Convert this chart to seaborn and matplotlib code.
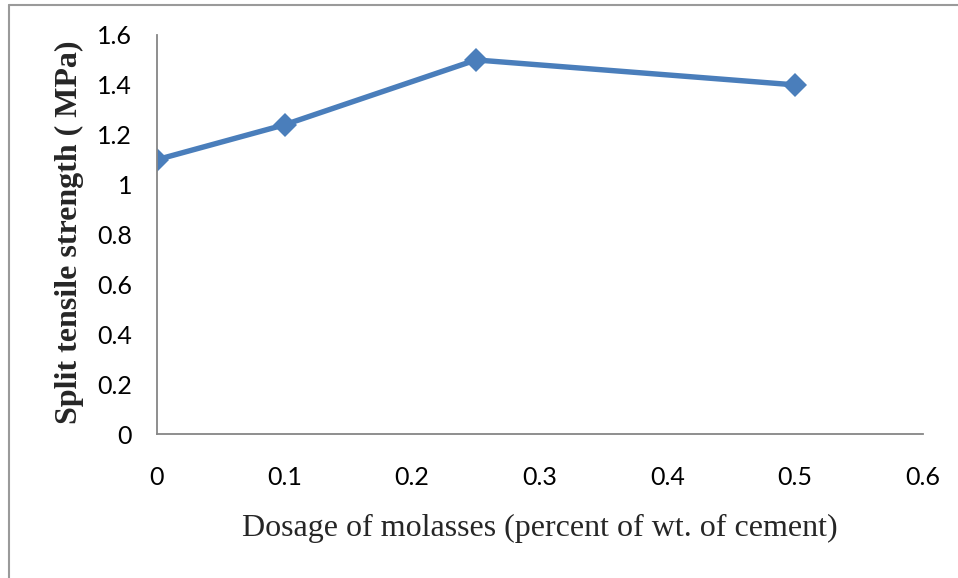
import numpy as np
import pandas as pd
import matplotlib.pyplot as plt
import seaborn as sns
from matplotlib.lines import Line2D

# data
dosage = [0, 0.1, 0.25, 0.5]
strength = [1.1, 1.24, 1.5, 1.4]

x_ticks = [0, 0.1, 0.2, 0.3, 0.4, 0.5, 0.6]
y_ticks = [0, 0.2, 0.4, 0.6, 0.8, 1, 1.2, 1.4, 1.6]
y_tick_labels = ['0', '0.2', '0.4', '0.6', '0.8', '1', '1.2', '1.4', '1.6']

df = pd.DataFrame({'dosage': dosage, 'strength': strength})

sns.set_style('white')
plt.rcParams['font.family'] = ['Lato', 'DejaVu Sans']

fig = plt.figure(figsize=(9.58, 5.78), dpi=100)
ax = fig.add_axes([157/958, 1 - 434/578, (922.5 - 157)/958, (434 - 35)/578])

sns.lineplot(data=df, x='dosage', y='strength', ax=ax, color='#4A7EBB',
             linewidth=3.9, marker='D', markersize=12, markeredgewidth=0)

ax.set_xlim(0, 0.6)
ax.set_ylim(0, 1.6)
ax.set_xticks(x_ticks)
ax.set_xticklabels([str(t) for t in x_ticks])
ax.set_yticks(y_ticks)
ax.set_yticklabels(y_tick_labels)
ax.tick_params(axis='x', length=0, pad=23, labelsize=18, labelcolor='black')
ax.tick_params(axis='y', length=0, pad=18, labelsize=18, labelcolor='black')

for s in ['top', 'right']:
    ax.spines[s].set_visible(False)
for s in ['left', 'bottom']:
    ax.spines[s].set_color('#868686')
    ax.spines[s].set_linewidth(1.3)

ax.set_xlabel('Dosage of molasses (percent of wt. of cement)',
              family='Liberation Serif', fontsize=23)
ax.set_ylabel('Split tensile strength ( MPa)', family='Liberation Serif',
              fontsize=23, fontweight='bold')
ax.xaxis.set_label_coords(0.5, -0.2)
ax.yaxis.set_label_coords(-0.095, 0.505)

# outer frame of the original picture (top and left edges)
fig.add_artist(Line2D([9/958, 9/958], [0, 1 - 5/578], color='#9a9a9a', lw=1.5))
fig.add_artist(Line2D([9/958, 1], [1 - 5/578, 1 - 5/578], color='#9a9a9a', lw=1.5))

fig.savefig('out.png', dpi=100)
